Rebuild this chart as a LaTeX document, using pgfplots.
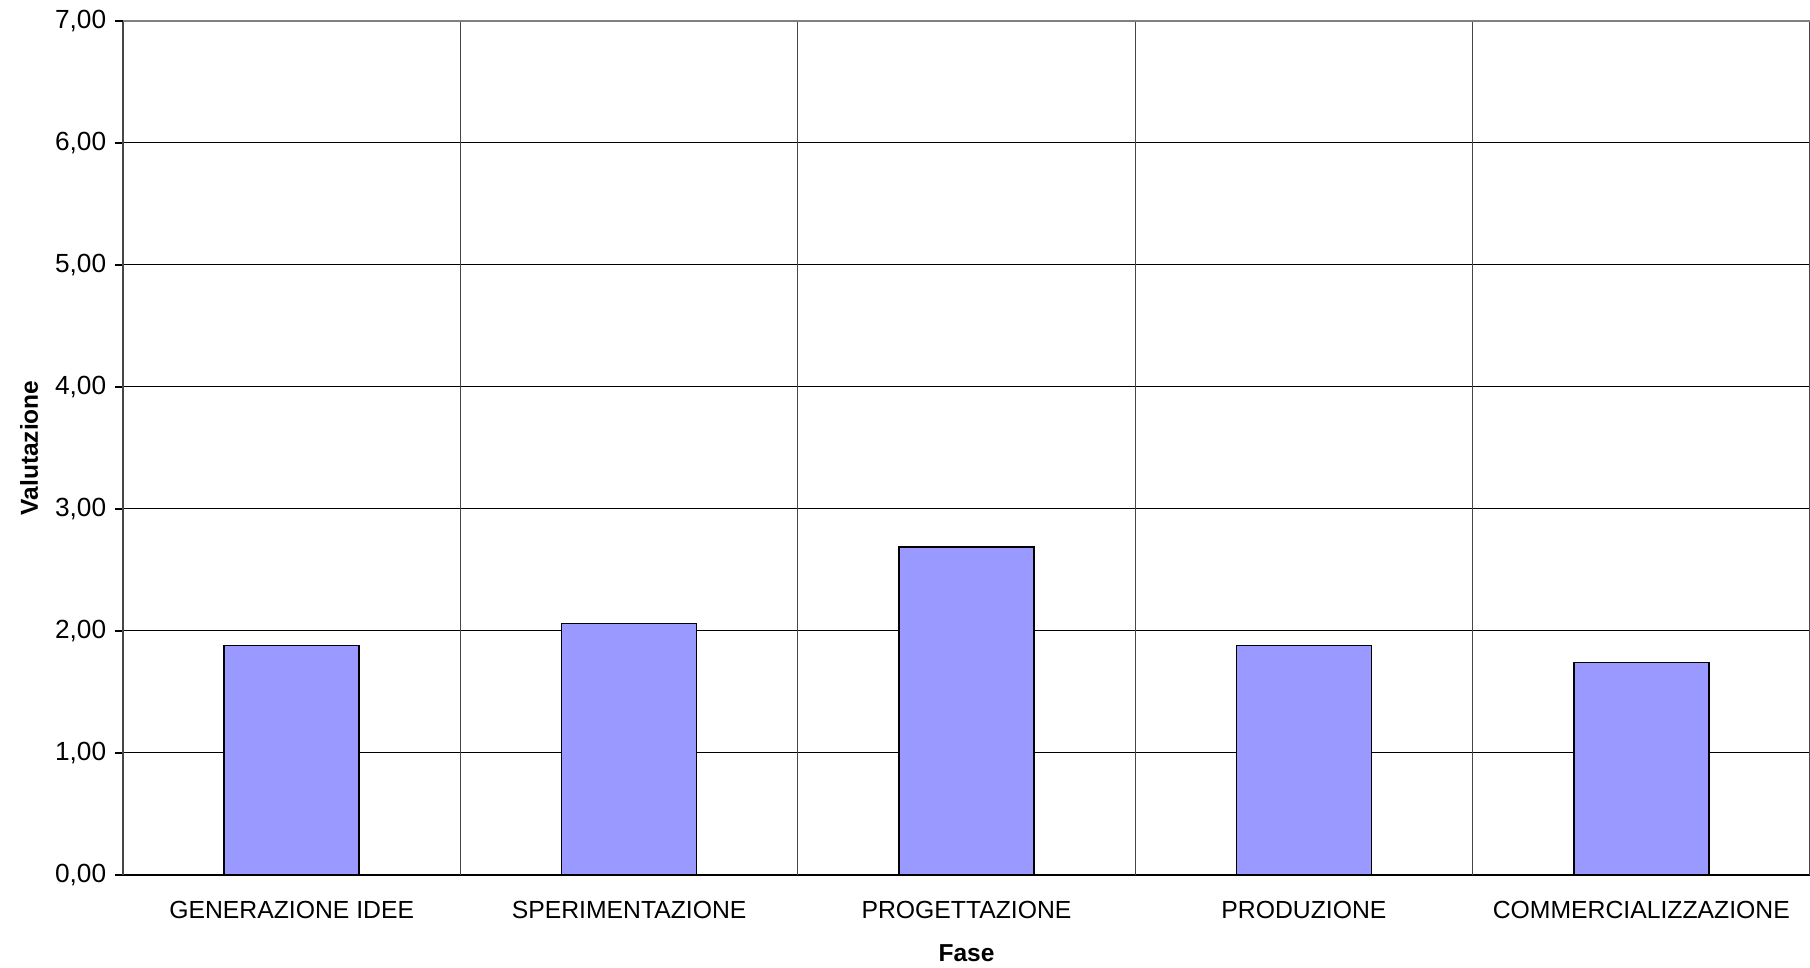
\documentclass[border=0pt]{standalone}
\usepackage{fontspec}
\setmainfont{Liberation Sans}
\usepackage{pgfplots}
\pgfplotsset{compat=1.18}
\definecolor{barblue}{HTML}{9999FF}
\begin{document}
\begin{tikzpicture}
\path[use as bounding box] (-49.2pt,-37.2pt) rectangle (674.8pt,350pt);
\begin{axis}[
  at={(0pt,0pt)}, anchor=south west,
  width=674.8pt, height=341.6pt, scale only axis,
  xmin=-0.5, xmax=4.5, ymin=0, ymax=7,
  axis x line*=bottom, axis y line*=left,
  axis line style={black, line width=0.5pt},
  ybar, bar width=0.4,
  xtick={0,1,2,3,4},
  xticklabels={GENERAZIONE IDEE, SPERIMENTAZIONE, PROGETTAZIONE, PRODUZIONE, COMMERCIALIZZAZIONE},
  major x tick style={draw=none},
  extra x ticks={-0.5,0.5,1.5,2.5,3.5,4.5},
  extra x tick labels={},
  extra x tick style={xmajorgrids=true, major grid style={gray!55!black, line width=0.5pt}, tick style={draw=gray!55!black, line width=0.5pt}, major tick length=3.2pt},
  tick align=outside,
  ytick={0,1,2,3,4,5,6},
  ymajorgrids=true,
  major grid style={black, line width=0.4pt},
  extra y ticks={7},
  extra y tick style={major grid style={gray, line width=0.9pt}},
  major tick length=3.2pt,
  ytick style={black, line width=0.5pt},
  /pgf/number format/.cd, fixed, fixed zerofill, precision=2, use comma, assume math mode=true,
  /pgfplots/.cd,
  yticklabel style={font=\fontsize{10.5}{12}\selectfont},
  xticklabel style={font=\fontsize{9.9}{11}\selectfont, yshift=-3.8pt},
  xlabel={Fase}, ylabel={Valutazione},
  label style={font=\bfseries\fontsize{9.8}{11}\selectfont},
  xlabel style={at={(axis description cs:0.5,-0.0919)}, anchor=center},
  ylabel style={at={(axis description cs:-0.0557,0.5)}, anchor=center, rotate=0},
]
\addplot[fill=barblue, draw=black, line width=0.6pt] coordinates {(0,1.88) (1,2.06) (2,2.69) (3,1.88) (4,1.74)};
\end{axis}
\end{tikzpicture}
\end{document}
